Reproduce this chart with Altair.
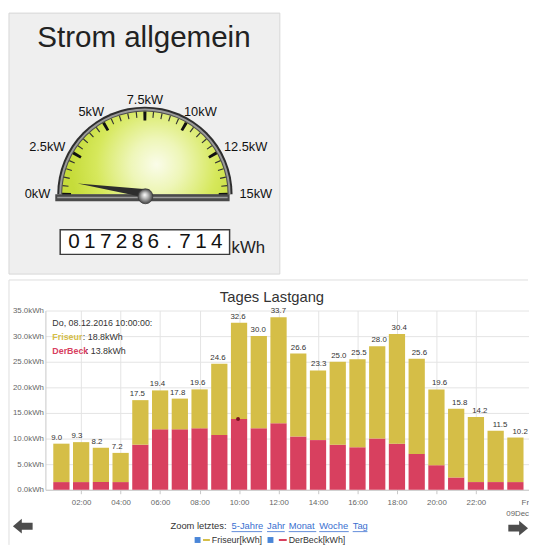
import math
import altair as alt
import pandas as pd

FONT = "Liberation Sans"

# ---------------- data: gauge panel ----------------
gauge_title = "Strom allgemein"
gauge_value_kw = [0.7]
gauge_major = [0, 2.5, 5, 7.5, 10, 12.5, 15]
gauge_major_labels = ["0kW", "2.5kW", "5kW", "7.5kW", "10kW", "12.5kW", "15kW"]
gauge_minor = [0.5, 1, 1.5, 2, 3, 3.5, 4, 4.5, 5.5, 6, 6.5, 7,
               8, 8.5, 9, 9.5, 10.5, 11, 11.5, 12, 13, 13.5, 14, 14.5]
meter_reading = 17286.714
meter_unit = "kWh"

# ---------------- data: bar panel ----------------
chart_title = "Tages Lastgang"
hours = [1, 2, 3, 4, 5, 6, 7, 8, 9, 10, 11, 12,
         13, 14, 15, 16, 17, 18, 19, 20, 21, 22, 23, 24]
friseur = [7.5, 7.8, 6.7, 5.7, 8.7, 7.6, 6.0, 7.6, 13.9, 18.8, 18.0, 20.7,
           16.2, 13.6, 16.2, 17.2, 18.0, 21.4, 18.6, 14.8, 13.4, 12.7, 10.0, 8.7]
derbeck = [1.5, 1.5, 1.5, 1.5, 8.8, 11.8, 11.8, 12.0, 10.7, 13.8, 12.0, 13.0,
           10.4, 9.7, 8.8, 8.3, 10.0, 9.0, 7.0, 4.8, 2.4, 1.5, 1.5, 1.5]
series_names = ["Friseur", "DerBeck"]
series_colors = ["#d5be47", "#d8405f"]
x_tick_hours = [2, 4, 6, 8, 10, 12, 14, 16, 18, 20, 22]
last_tick_label = ["Fr", "09Dec"]
y_ticks = [0, 5, 10, 15, 20, 25, 30, 35]
tooltip_time = "Do, 08.12.2016 10:00:00:"
tooltip_index = 9
zoom_label = "Zoom letztes:"
zoom_links = ["5-Jahre", "Jahr", "Monat", "Woche", "Tag"]
legend_labels = ["Friseur[kWh]", "DerBeck[kWh]"]


def one(**kw):
    return pd.DataFrame({k: [v] for k, v in kw.items()})


def text_at(t, x, y, size=9, color="#333333", weight="normal", align="left",
            baseline="middle"):
    return alt.Chart(one(t=t)).mark_text(
        align=align, baseline=baseline, fontSize=size, color=color,
        fontWeight=weight, font=FONT
    ).encode(x=alt.value(x), y=alt.value(y), text="t:N")


def rect_at(x, x2, y, y2, fill, stroke=None, sw=0):
    kw = dict(fill=fill, strokeWidth=sw)
    if stroke:
        kw["stroke"] = stroke
    return alt.Chart(one(k=0)).mark_rect(**kw).encode(
        x=alt.value(x), x2=alt.value(x2), y=alt.value(y), y2=alt.value(y2))


def rule_at(x, x2, y, y2, color, sw=1):
    return alt.Chart(one(k=0)).mark_rule(color=color, strokeWidth=sw).encode(
        x=alt.value(x), x2=alt.value(x2), y=alt.value(y), y2=alt.value(y2))


# plot area of the bar chart (all coordinates below are relative to it)
W, H = 491, 182

# ================= gauge panel (drawn above the plot area) =================
CX, CY = 101, -118
GMAX = gauge_major[-1]
TH = alt.Scale(domain=[gauge_major[0], GMAX],
               range=[1.5 * math.pi, 2.5 * math.pi])
face_df = one(v0=gauge_major[0], v1=GMAX)


def half_disc(r, fill):
    return alt.Chart(face_df).mark_arc(x=CX, y=CY, radius=r, radius2=0, fill=fill).encode(
        theta=alt.Theta("v0:Q", scale=TH), theta2="v1:Q")


face_grad = alt.RadialGradient(
    gradient="radial",
    stops=[alt.GradientStop(offset=0, color="#fafce9"),
           alt.GradientStop(offset=0.3, color="#eef6b8"),
           alt.GradientStop(offset=0.7, color="#d6e85c"),
           alt.GradientStop(offset=1, color="#c6dc3a")],
    x1=0.57, y1=0.57, r1=0, x2=0.57, y2=0.57, r2=0.52)

panel_bg = rect_at(-37, 238, -302, -37, "#efefef", stroke="#d6d6d6", sw=1)
rim_outer = half_disc(89, "#2e2e2e")
rim_mid = half_disc(87, "#9a9a9a")
rim_inner = half_disc(85, "#4a4a4a")
face = half_disc(84, face_grad)

minor_df = pd.DataFrame({"v": gauge_minor})
minor_ticks = alt.Chart(minor_df).transform_calculate(
    t0="datum.v - 0.035", t1="datum.v + 0.035"
).mark_arc(x=CX, y=CY, radius=84, radius2=78, fill="#333333").encode(
    theta=alt.Theta("t0:Q", scale=TH), theta2="t1:Q")

major_df = pd.DataFrame({"v": gauge_major, "label": gauge_major_labels})
major_ticks = alt.Chart(major_df).transform_calculate(
    t0="datum.v - 0.09", t1="datum.v + 0.09"
).mark_arc(x=CX, y=CY, radius=84, radius2=75, fill="#111111").encode(
    theta=alt.Theta("t0:Q", scale=TH), theta2="t1:Q")

# labels: centre of each label pushed outwards by half its (estimated) width
gauge_labels = alt.Chart(major_df).transform_calculate(
    a=f"(datum.v / {GMAX} - 0.5) * PI",
    w="13 * (1.444 + 0.556 * (length(datum.label) - 2))"
      " - (indexof(datum.label, '.') >= 0 ? 3.6 : 0)",
    ox="(96 + datum.w / 2) * sin(datum.a)",
    oy="96 * cos(datum.a)",
    rad="sqrt(datum.ox * datum.ox + datum.oy * datum.oy)",
    th="atan2(datum.ox, datum.oy)",
).mark_text(
    x=CX, y=CY, align="center", baseline="middle", fontSize=13,
    font=FONT, color="#111111"
).encode(theta=alt.Theta("th:Q", scale=None), radius=alt.Radius("rad:Q", scale=None),
         text="label:N")

band = rect_at(CX - 91, CX + 86, CY, CY + 7, "#4a4a4a")
band_hi = rect_at(CX - 89, CX + 84, CY + 2.5, CY + 4, "#9c9c9c")

needle = alt.Chart(pd.DataFrame({"v": gauge_value_kw})).mark_point(
    shape="M-0.06,-0.065L1,0L-0.06,0.065Z", filled=True, size=19044,
    color="#2d2d2d", opacity=1, strokeWidth=0
).encode(x=alt.value(CX), y=alt.value(CY - 1),
         angle=alt.Angle("v:Q", scale=alt.Scale(domain=[0, GMAX], range=[180, 360]),
                         legend=None))

knob_grad = alt.RadialGradient(
    gradient="radial",
    stops=[alt.GradientStop(offset=0, color="#ffffff"),
           alt.GradientStop(offset=0.45, color="#b4b4b4"),
           alt.GradientStop(offset=1, color="#454545")],
    x1=0.45, y1=0.4, r1=0, x2=0.5, y2=0.5, r2=0.5)
knob = alt.Chart(one(k=0)).mark_point(
    shape="circle", filled=True, size=230, fill=knob_grad, opacity=1,
    stroke="#3a3a3a", strokeWidth=0.8
).encode(x=alt.value(CX + 0.5), y=alt.value(CY + 2))

title_top = text_at(gauge_title, 100, -268, size=30, color="#222222",
                    align="center", baseline="alphabetic")

counter_box = rect_at(15, 187, -82, -57, "#ffffff", stroke="#3c3c3c", sw=1.5)
digits = list(f"{meter_reading:010.3f}")
digits_df = pd.DataFrame({"i": list(range(len(digits))), "ch": digits})
counter_digits = alt.Chart(digits_df).mark_text(
    baseline="middle", align="center", fontSize=21, font=FONT, color="#111111"
).encode(x=alt.X("i:Q", scale=alt.Scale(domain=[0, len(digits) - 1], range=[29, 174]),
                 axis=None),
         y=alt.value(-69.5), text="ch:N")
unit_txt = text_at(meter_unit, 189, -58, size=17, color="#222222",
                   baseline="alphabetic")

# ================= bar panel =================
rows = []
for h, f, d in zip(hours, friseur, derbeck):
    rows.append({"hour": h, "series": series_names[1], "value": d, "ord": 0})
    rows.append({"hour": h, "series": series_names[0], "value": f, "ord": 1})
bars_df = pd.DataFrame(rows)

XS = alt.Scale(domain=[0.44, 24.44], nice=False, zero=False)
YS = alt.Scale(domain=[0, 35], nice=False)
Y_AXIS = alt.Axis(
    values=y_ticks, labelExpr="format(datum.value, '.1f') + 'kWh'",
    grid=True, gridColor="#e4e4e4", domainColor="#c8c8c8", ticks=False,
    labelFontSize=8, labelColor="#666666", labelPadding=2, labelFont=FONT,
    labelOverlap=False)

bars = alt.Chart(bars_df).mark_bar(width=16.5).encode(
    x=alt.X("hour:Q", scale=XS, title=None, axis=alt.Axis(
        values=x_tick_hours,
        labelExpr="(datum.value < 10 ? '0' : '') + datum.value + ':00'",
        grid=True, gridColor="#e4e4e4", domainColor="#c8c8c8", tickColor="#c8c8c8",
        tickSize=4, labelFontSize=8, labelColor="#666666", labelPadding=5,
        labelFont=FONT, labelOverlap=False)),
    y=alt.Y("value:Q", stack="zero", scale=YS, title=None, axis=Y_AXIS),
    color=alt.Color("series:N", scale=alt.Scale(domain=series_names, range=series_colors),
                    legend=None),
    order=alt.Order("ord:Q"),
)

totals = alt.Chart(bars_df).transform_aggregate(
    total="sum(value)", groupby=["hour"]
).mark_text(baseline="bottom", dy=-2, fontSize=8, font=FONT, color="#333333").encode(
    x=alt.X("hour:Q", scale=XS, axis=None),
    y=alt.Y("total:Q", scale=YS, title=None, axis=Y_AXIS),
    text=alt.Text("total:Q", format=".1f"))

hover = alt.Chart(one(hour=hours[tooltip_index], v=derbeck[tooltip_index])).mark_point(
    filled=True, size=16, color="#7a1020", opacity=1
).encode(x=alt.X("hour:Q", scale=XS, axis=None),
         y=alt.Y("v:Q", scale=YS, title=None, axis=Y_AXIS))

frame_top = rule_at(-37, 490, -31, -31, "#dedede")
frame_left = rule_at(-37, -37, -31, 238, "#dedede")
title_bot = text_at(chart_title, 230, -14, size=15, color="#333333", align="center")

tt1 = text_at(tooltip_time, 7, 13, size=9)
tt2a = text_at(series_names[0], 7, 27, size=9, color=series_colors[0], weight="bold")
tt2b = text_at(f": {friseur[tooltip_index]:.1f}kWh", 38, 27, size=9)
tt3a = text_at(series_names[1], 7, 41, size=9, color=series_colors[1], weight="bold")
tt3b = text_at(f": {derbeck[tooltip_index]:.1f}kWh", 41, 41, size=9)

fr1 = text_at(last_tick_label[0], W, 195, size=8, color="#666666", align="right")
fr2 = text_at(last_tick_label[1], W, 207, size=8, color="#666666", align="right")

zoom_txt = text_at(zoom_label, 127, 219, size=9.5, color="#333333")
link_x = [189, 225, 247, 278, 312]
link_w = [31, 18, 28, 30, 15]
link_layers = []
for name, lx, lw in zip(zoom_links, link_x, link_w):
    link_layers.append(text_at(name, lx, 219, size=9.5, color="#3a6fd0"))
    link_layers.append(rule_at(lx, lx + lw, 224.5, 224.5, "#3a6fd0", 0.8))

chk1 = alt.Chart(one(k=0)).mark_point(shape="square", filled=True, size=36,
                                       color="#4a86d8", opacity=1).encode(
    x=alt.value(154.5), y=alt.value(233))
chk2 = alt.Chart(one(k=0)).mark_point(shape="square", filled=True, size=36,
                                       color="#4a86d8", opacity=1).encode(
    x=alt.value(228.5), y=alt.value(233))
dash1 = rule_at(160, 167, 233, 233, series_colors[0], 2)
dash2 = rule_at(237, 245, 233, 233, series_colors[1], 2)
leg1 = text_at(legend_labels[0], 169, 233, size=9, color="#333333")
leg2 = text_at(legend_labels[1], 247, 233, size=9, color="#333333")

arrow_l = alt.Chart(one(k=0)).mark_point(
    shape="M-1,0L-0.1,-0.75L-0.1,-0.35L1,-0.35L1,0.35L-0.1,0.35L-0.1,0.75Z",
    filled=True, size=400, color="#4d4d4d", opacity=1).encode(
    x=alt.value(-23), y=alt.value(219))
arrow_r = alt.Chart(one(k=0)).mark_point(
    shape="M1,0L0.1,-0.75L0.1,-0.35L-1,-0.35L-1,0.35L0.1,0.35L0.1,0.75Z",
    filled=True, size=400, color="#4d4d4d", opacity=1).encode(
    x=alt.value(480), y=alt.value(221))

chart = alt.layer(
    panel_bg, title_top, rim_outer, rim_mid, rim_inner, face, minor_ticks, major_ticks,
    band, band_hi, needle, knob, gauge_labels,
    counter_box, counter_digits, unit_txt,
    frame_top, frame_left, bars, totals, hover, title_bot,
    tt1, tt2a, tt2b, tt3a, tt3b, fr1, fr2, zoom_txt, *link_layers,
    chk1, chk2, dash1, dash2, leg1, leg2, arrow_l, arrow_r
).resolve_scale(x="independent").properties(
    width=W, height=H, padding=0
).configure_view(stroke=None).configure_text(font=FONT)

chart.save("out.html", embed_options={"renderer": "svg", "actions": False})
